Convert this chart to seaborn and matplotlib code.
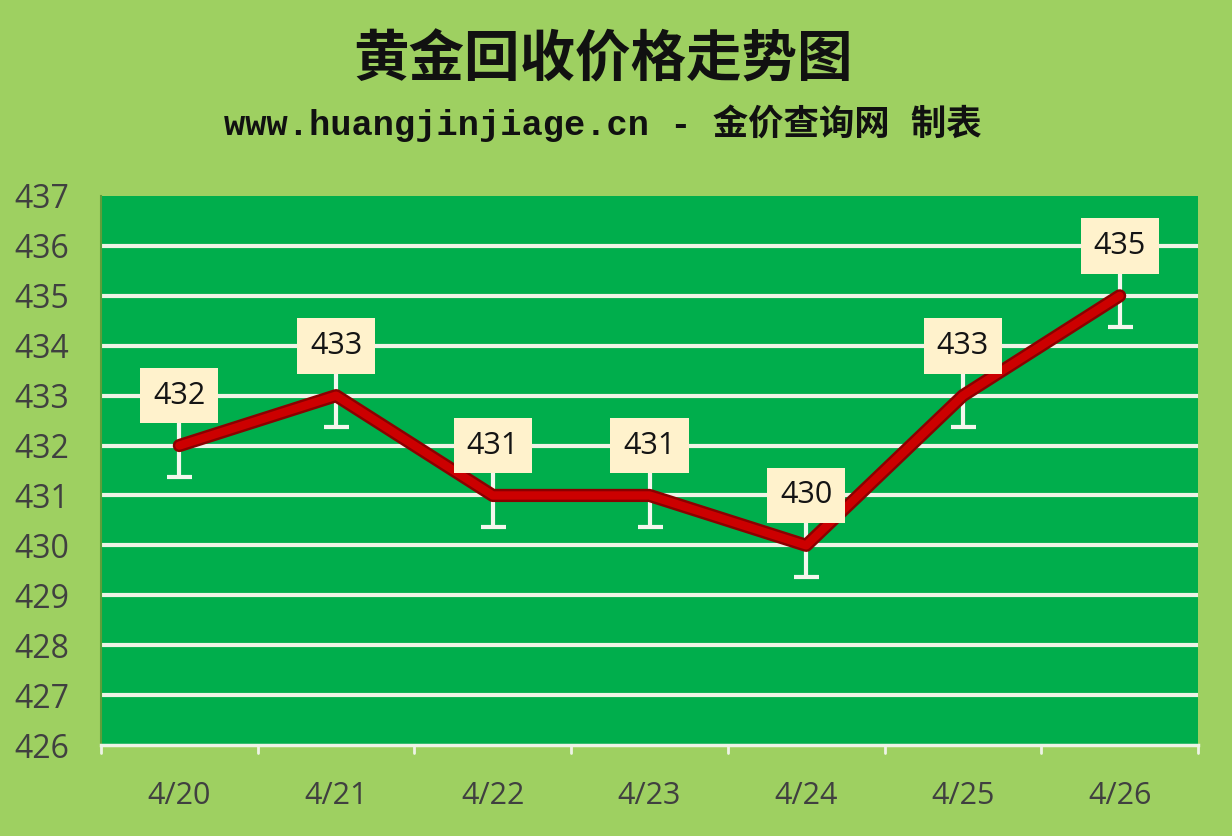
import matplotlib
matplotlib.use("Agg")
import matplotlib.pyplot as plt
import seaborn as sns
import pandas as pd

# data
dates = ["4/20", "4/21", "4/22", "4/23", "4/24", "4/25", "4/26"]
prices = [432, 433, 431, 431, 430, 433, 435]
yticks = list(range(426, 438))

title = "黄金回收价格走势图"
subtitle = "www.huangjinjiage.cn - 金价查询网 制表"

df = pd.DataFrame({"date": dates, "price": prices})
df["x"] = range(len(df))

sns.set_theme(style="white")
plt.rcParams["font.family"] = ["Open Sans", "Noto Sans CJK SC", "DejaVu Sans"]

outer_bg = "#9ED061"
plot_bg = "#00AE4C"
box_bg = "#FFF2CC"
grid_c = "#EEF3E6"
text_c = "#404040"

fig = plt.figure(figsize=(12.32, 8.36), dpi=100, facecolor=outer_bg)
ax = fig.add_axes([101 / 1232, 1 - 745 / 836, 1097 / 1232, 549 / 836])
ax.set_facecolor(plot_bg)

ax.set_xlim(-0.5, len(dates) - 0.5)
ax.set_ylim(yticks[0], yticks[-1])

for v in yticks[1:-1]:
    ax.axhline(v, color=grid_c, lw=3, zorder=1)

# whiskers under the labels (upper cap is hidden by the label box)
ax.errorbar(df["x"], df["price"], yerr=[[0.63] * len(df), [0.6] * len(df)],
            fmt="none", ecolor="#F4F7EE", elinewidth=3, capsize=9, capthick=3, zorder=2)

# red line with darker edge
sns.lineplot(data=df, x="x", y="price", ax=ax, color="#8B0000", lw=9.5,
             zorder=3, solid_capstyle="round", solid_joinstyle="round")
sns.lineplot(data=df, x="x", y="price", ax=ax, color="#CC0000", lw=6,
             zorder=4, solid_capstyle="round", solid_joinstyle="round")

# value labels
for xi, v in zip(df["x"], df["price"]):
    ax.text(xi, v + 1, str(v), ha="center", va="center", fontsize=22,
            color="#141414", zorder=6,
            bbox=dict(boxstyle="square,pad=0.42", fc=box_bg, ec="none"))

ax.set_xticks(df["x"])
ax.set_xticklabels(dates, fontsize=22, color=text_c)
ax.set_yticks(yticks)
ax.set_yticklabels([str(v) for v in yticks], fontsize=23, color=text_c)
ax.tick_params(axis="x", length=0, pad=26)
ax.tick_params(axis="y", length=0, pad=23)
ax.set_xlabel("")
ax.set_ylabel("")

# category boundary ticks on the bottom axis
for b in [i - 0.5 for i in range(len(dates) + 1)]:
    ax.plot([b, b], [yticks[0], yticks[0] - 0.16], color=grid_c, lw=2,
            clip_on=False, zorder=5)

for s in ["top", "right"]:
    ax.spines[s].set_visible(False)
ax.spines["left"].set_color("#5E9E3A")
ax.spines["left"].set_linewidth(1.5)
ax.spines["bottom"].set_color(grid_c)
ax.spines["bottom"].set_linewidth(2.5)

fig.text(603 / 1232, 1 - 60 / 836, title, ha="center", va="center", fontsize=40,
         fontweight="bold", color="#111111", family=["Noto Sans CJK SC", "DejaVu Sans"])
fig.text(603 / 1232, 1 - 123 / 836, subtitle, ha="center", va="center", fontsize=25.5,
         fontweight="bold", color="#111111",
         family=["Liberation Mono", "Noto Sans CJK SC", "DejaVu Sans"])

fig.savefig("out.png", dpi=100, facecolor=outer_bg)
